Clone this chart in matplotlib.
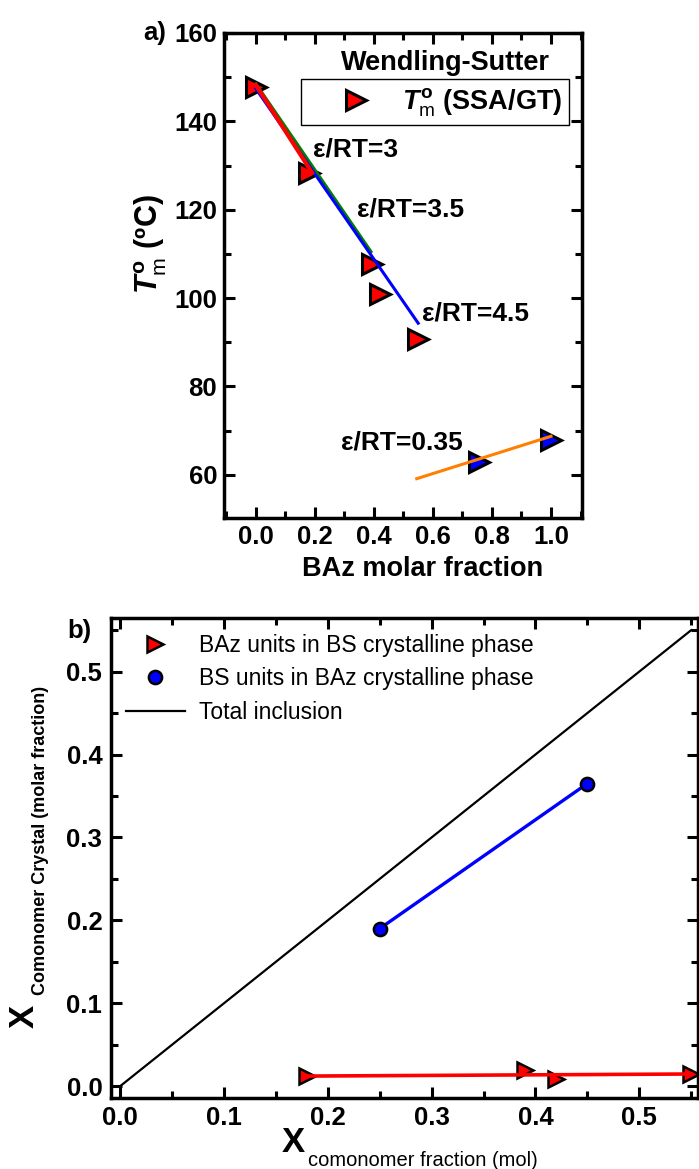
import matplotlib
matplotlib.use("Agg")
import matplotlib.pyplot as plt
from matplotlib.ticker import MultipleLocator

plt.rcParams['font.family'] = ['Liberation Sans', 'DejaVu Sans']
plt.rcParams['mathtext.fontset'] = 'custom'
plt.rcParams['mathtext.it'] = 'Liberation Sans:italic:bold'
plt.rcParams['mathtext.rm'] = 'Liberation Sans'
plt.rcParams['mathtext.bf'] = 'Liberation Sans:bold'

# ---------------- data : panel a ----------------
baz_frac_bs = [0.0, 0.18, 0.395, 0.42, 0.55]
tm_bs = [147.8, 128.3, 107.6, 100.9, 90.8]
baz_frac_baz = [0.755, 1.0]
tm_baz = [62.8, 67.8]

ws3_x = [0.0, 0.19]
ws3_y = [148.2, 128.4]
ws35_x = [0.0, 0.39]
ws35_y = [148.5, 110.5]
ws45_x = [0.0, 0.55]
ws45_y = [147.4, 94.3]
ws035_x = [0.545, 1.0]
ws035_y = [59.1, 68.7]

labels_eps = ['ε/RT=3', 'ε/RT=3.5', 'ε/RT=4.5', 'ε/RT=0.35']
labels_eps_x = [0.194, 0.341, 0.562, 0.29]
labels_eps_y = [133.6, 120.0, 96.5, 67.3]

# ---------------- data : panel b ----------------
x_baz_units = [0.18, 0.39, 0.42, 0.55]
y_baz_units = [0.012, 0.019, 0.008, 0.0145]
fit_baz_x = [0.18, 0.55]
fit_baz_y = [0.012, 0.0145]
x_bs_units = [0.25, 0.45]
y_bs_units = [0.19, 0.365]
total_x = [0.0, 0.55]
total_y = [0.0, 0.55]

W, H = 699, 1169
fig = plt.figure(figsize=(W / 100, H / 100), dpi=100)


def fx(px):
    return px / W


def fy(py):
    return 1 - py / H


# ================= panel a =================
a_l, a_r, a_t, a_b = 224, 582, 33, 518
axa = fig.add_axes([fx(a_l), fy(a_b), (a_r - a_l) / W, (a_b - a_t) / H])

axa.plot(baz_frac_bs, tm_bs, ls='none', marker='>', ms=15, mfc='#FF0000',
         mec='black', mew=2.2, zorder=2)
axa.plot(baz_frac_baz, tm_baz, ls='none', marker='>', ms=15, mfc='#0000FF',
         mec='black', mew=2.2, zorder=2)
axa.plot(ws35_x, ws35_y, color='#008000', lw=2.2, zorder=3)
axa.plot(ws45_x, ws45_y, color='#0000FF', lw=2.2, zorder=4)
axa.plot(ws3_x, ws3_y, color='#FF0000', lw=3.0, zorder=5)
axa.plot(ws035_x, ws035_y, color='#FF8000', lw=2.2, zorder=4)

for t, x, y in zip(labels_eps, labels_eps_x, labels_eps_y):
    axa.text(x, y, t, fontsize=19, fontweight='bold', ha='left', va='center',
             zorder=6)

axa.set_xlim(-0.108, 1.105)
axa.set_ylim(50.2, 160)
axa.xaxis.set_major_locator(MultipleLocator(0.2))
axa.xaxis.set_minor_locator(MultipleLocator(0.1))
axa.yaxis.set_major_locator(MultipleLocator(20))
axa.yaxis.set_minor_locator(MultipleLocator(10))
axa.set_xticks([0.0, 0.2, 0.4, 0.6, 0.8, 1.0])
axa.set_xticklabels(['0.0', '0.2', '0.4', '0.6', '0.8', '1.0'])
axa.set_yticks([60, 80, 100, 120, 140, 160])
axa.set_yticklabels(['60', '80', '100', '120', '140', '160'])
axa.tick_params(which='both', direction='in', top=True, right=True,
                width=2.2, labelsize=18.5, pad=5)
axa.tick_params(which='major', length=8)
axa.tick_params(which='minor', length=5)
for lab in axa.get_xticklabels() + axa.get_yticklabels():
    lab.set_fontweight('bold')
for s in axa.spines.values():
    s.set_linewidth(2.5)

axa.set_xlabel('BAz molar fraction', fontsize=19.5, fontweight='bold')
axa.xaxis.set_label_coords((423 - a_l) / (a_r - a_l), (a_b - 569) / (a_b - a_t))
axa.xaxis.label.set_va('center')
axa.set_ylabel(r'$\mathit{T}_{\mathrm{m}}^{\mathbf{o}}$ (ºC)', fontsize=22,
               fontweight='bold')
axa.yaxis.set_label_coords((151 - a_l) / (a_r - a_l), (a_b - 244) / (a_b - a_t))
axa.yaxis.label.set_va('center')

axa.text((445 - a_l) / (a_r - a_l), (a_b - 63) / (a_b - a_t), 'Wendling-Sutter',
         transform=axa.transAxes, fontsize=19.5, fontweight='bold',
         ha='center', va='center')

h_a, = axa.plot([], [], ls='none', marker='>', ms=15, mfc='#FF0000',
                mec='black', mew=2.2)
leg_a = axa.legend([h_a], [r'$\mathit{T}_{\mathrm{m}}^{\mathbf{o}}$ (SSA/GT)'],
                   loc='upper left',
                   bbox_to_anchor=((300.7 - a_l) / (a_r - a_l),
                                   (a_b - 79.3) / (a_b - a_t)),
                   borderaxespad=0, borderpad=0.25, handlelength=3.6,
                   handletextpad=-0.1, frameon=True, fancybox=False,
                   edgecolor='black', framealpha=1,
                   prop={'size': 19.5, 'weight': 'bold'})
leg_a.get_frame().set_linewidth(1.0)

fig.text(fx(143), fy(33), 'a)', fontsize=18.5, fontweight='bold',
         ha='left', va='center')

# ================= panel b =================
b_l, b_r, b_t, b_b = 110.7, 698, 618, 1097.7
axb = fig.add_axes([fx(b_l), fy(b_b), (b_r - b_l) / W, (b_b - b_t) / H])

axb.plot(total_x, total_y, color='black', lw=1.6, zorder=2,
         label='Total inclusion')
axb.plot(x_baz_units, y_baz_units, ls='none', marker='>', ms=12,
         mfc='#FF0000', mec='black', mew=1.8, zorder=3,
         label='BAz units in BS crystalline phase')
axb.plot(fit_baz_x, fit_baz_y, color='#FF0000', lw=2.6, zorder=4)
axb.plot(x_bs_units, y_bs_units, color='#0000FF', lw=2.4, zorder=3)
axb.plot(x_bs_units, y_bs_units, ls='none', marker='o', ms=9.5,
         mfc='#0000FF', mec='black', mew=1.8, zorder=4,
         label='BS units in BAz crystalline phase')

axb.set_xlim(-0.0093, 0.5566)
axb.set_ylim(-0.0141, 0.5647)
axb.xaxis.set_major_locator(MultipleLocator(0.1))
axb.xaxis.set_minor_locator(MultipleLocator(0.05))
axb.yaxis.set_major_locator(MultipleLocator(0.1))
axb.yaxis.set_minor_locator(MultipleLocator(0.05))
axb.set_xticks([0.0, 0.1, 0.2, 0.3, 0.4, 0.5])
axb.set_xticklabels(['0.0', '0.1', '0.2', '0.3', '0.4', '0.5'])
axb.set_yticks([0.0, 0.1, 0.2, 0.3, 0.4, 0.5])
axb.set_yticklabels(['0.0', '0.1', '0.2', '0.3', '0.4', '0.5'])
axb.tick_params(which='both', direction='in', top=True, right=True,
                width=2.2, labelsize=18.5, pad=6)
axb.tick_params(which='major', length=8)
axb.tick_params(which='minor', length=5)
for lab in axb.get_xticklabels() + axb.get_yticklabels():
    lab.set_fontweight('bold')
for s in axb.spines.values():
    s.set_linewidth(2.5)

handles, labels = axb.get_legend_handles_labels()
order = [1, 2, 0]
leg_b = axb.legend([handles[i] for i in order], [labels[i] for i in order],
                   loc='upper left',
                   bbox_to_anchor=((125.7 - b_l) / (b_r - b_l),
                                   (b_b - 634) / (b_b - b_t)),
                   borderaxespad=0, borderpad=0, frameon=False,
                   handlelength=2.6, handletextpad=0.6, labelspacing=0.45,
                   prop={'size': 16.5})

fig.text(fx(67), fy(631), 'b)', fontsize=18.5, fontweight='bold',
         ha='left', va='center')

# axis labels of panel b (big X with subscript text)
fig.text(fx(282), fy(1152), 'X', fontsize=25, fontweight='bold',
         ha='left', va='baseline')
fig.text(fx(308), fy(1166.5), 'comonomer fraction (mol)', fontsize=14.5,
         ha='left', va='baseline')
fig.text(fx(34), fy(1028), 'X', fontsize=25, fontweight='bold',
         rotation=90, ha='left', va='baseline', rotation_mode='anchor')
fig.text(fx(45), fy(995), 'Comonomer Crystal (molar fraction)', fontsize=13,
         fontweight='bold', rotation=90, ha='left', va='baseline',
         rotation_mode='anchor')

fig.savefig('out.png', dpi=100)
